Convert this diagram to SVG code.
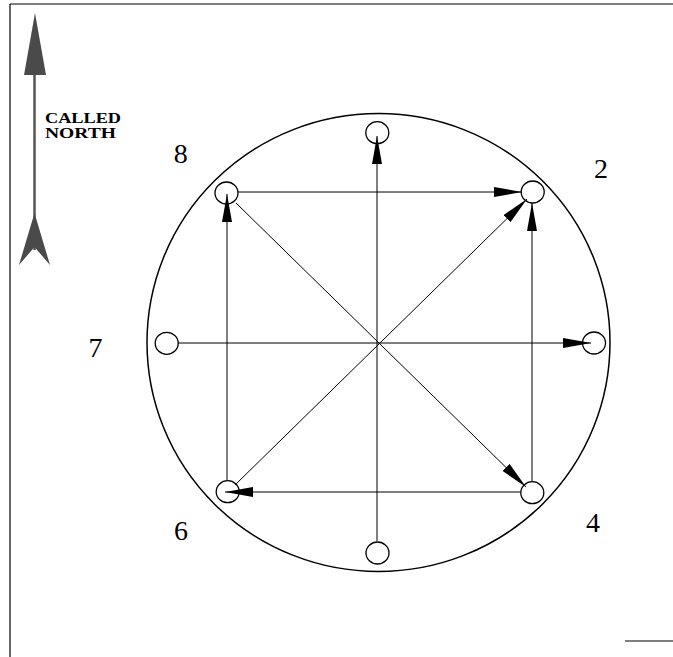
<svg xmlns="http://www.w3.org/2000/svg" width="673" height="657" viewBox="0 0 673 657">
<style>
.frame{stroke:#000;stroke-width:1.2;fill:none}
.node{fill:none;stroke:#000;stroke-width:1.3}
.conn{stroke:#000;stroke-width:1;fill:none;marker-end:url(#ah)}
.num{font-family:"Liberation Serif","Times New Roman",serif;font-size:28px;fill:#000;text-anchor:middle}
.lbl{font-family:"Liberation Serif","Times New Roman",serif;font-size:15.5px;font-weight:bold;fill:#000}
</style>
<defs>
<marker id="ah" markerUnits="userSpaceOnUse" markerWidth="28" markerHeight="10" refX="28" refY="5" orient="auto" viewBox="0 0 28 10">
<path d="M0,0 L28,5 L0,10 z" fill="#000"/>
</marker>
</defs>
<rect width="673" height="657" fill="#fff"/>
<g id="frame">
<path class="frame" d="M10,4 H673 M10,4 V657 M625,641 H673"/>
</g>
<g id="north">
<line x1="34.5" y1="70" x2="34.5" y2="250" stroke="#555" stroke-width="2.5"/>
<polygon points="35,13 46,75 24,75" fill="#4a4a4a"/>
<polygon points="34.5,213 50,265 34.5,247 19,265" fill="#4a4a4a"/>
<text class="lbl" x="45" y="123" textLength="76" lengthAdjust="spacingAndGlyphs">CALLED</text>
<text class="lbl" x="45" y="138" textLength="71" lengthAdjust="spacingAndGlyphs">NORTH</text>
</g>
<g id="boundary">
<ellipse cx="378.5" cy="342.5" rx="231.5" ry="229" fill="none" stroke="#000" stroke-width="1.5"/>
</g>
<g id="connectors">
<path class="conn" d="M377,541 L377,136"/>
<path class="conn" d="M178,343 L591,343"/>
<path class="conn" d="M238,192 L522,192"/>
<path class="conn" d="M521,492 L225,492"/>
<path class="conn" d="M227,480 L227,194"/>
<path class="conn" d="M532,481 L532,203"/>
<path class="conn" d="M235,485 L527,199"/>
<path class="conn" d="M236,203 L526,487"/>
</g>
<g id="node-n"><ellipse class="node" cx="377.3" cy="132.7" rx="11.5" ry="11"/></g>
<g id="node-8"><ellipse class="node" cx="226.5" cy="193" rx="11.5" ry="11"/><text class="num" x="180.7" y="162.5">8</text></g>
<g id="node-2"><ellipse class="node" cx="532.7" cy="192" rx="11.5" ry="11"/><text class="num" x="601" y="178">2</text></g>
<g id="node-7"><ellipse class="node" cx="166.7" cy="343.3" rx="11.5" ry="11"/><text class="num" x="95.5" y="356.5">7</text></g>
<g id="node-3"><ellipse class="node" cx="594" cy="343" rx="11.5" ry="11"/></g>
<g id="node-6"><ellipse class="node" cx="227.7" cy="491.7" rx="11.5" ry="11"/><text class="num" x="181" y="540">6</text></g>
<g id="node-4"><ellipse class="node" cx="532.3" cy="492.7" rx="11.5" ry="11"/><text class="num" x="593" y="532">4</text></g>
<g id="node-s"><ellipse class="node" cx="377.5" cy="553" rx="11.5" ry="11"/></g>
</svg>
